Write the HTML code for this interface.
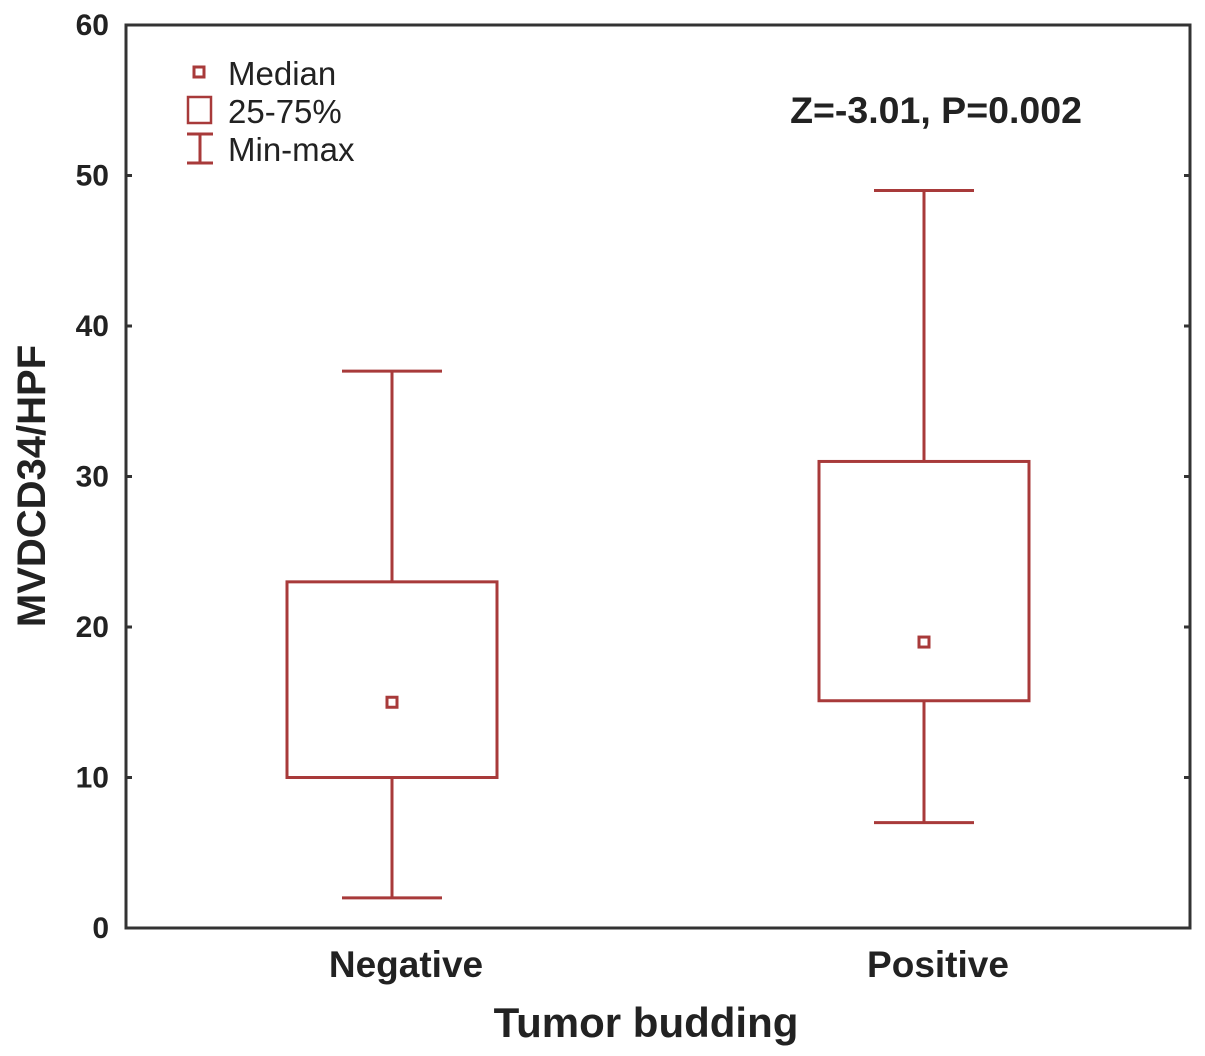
<!DOCTYPE html>
<html><head><meta charset="utf-8"><style>
html,body{margin:0;padding:0;background:#fff;}
svg{display:block;font-family:"Liberation Sans",Arial,sans-serif;}
</style></head><body>
<svg id="chart" width="1205" height="1056" viewBox="0 0 1205 1056" xmlns="http://www.w3.org/2000/svg"></svg>
<script>
const categories = ["Negative","Positive"];
const mins = [2, 7];
const q1s = [10, 15.1];
const medians = [15, 19];
const q3s = [23, 31];
const maxs = [37, 49];
const yTicks = [0,10,20,30,40,50,60];

const L=126, T=25, R=1190, B=928;
const yMin=0, yMax=60;
const centers=[392,924];
function y(v){return B-(v-yMin)/(yMax-yMin)*(B-T);}
function x(i){return centers[i];}
const NS="http://www.w3.org/2000/svg";
const svg=document.getElementById('chart');
const col="#a83a3a";
function mk(tag,attrs,parent){const e=document.createElementNS(NS,tag);for(const k in attrs)e.setAttribute(k,attrs[k]);(parent||svg).appendChild(e);return e;}

const frame=mk('rect',{x:L,y:T,width:R-L,height:B-T,fill:'none',stroke:'#333','stroke-width':3});



yTicks.forEach(v=>{
  const t1=mk('line',{x1:L,x2:L+6,y1:y(v),y2:y(v),stroke:'#333','stroke-width':3});
  
  
  const t2=mk('line',{x1:R-6,x2:R,y1:y(v),y2:y(v),stroke:'#333','stroke-width':3});
  
  
  const lb=mk('text',{x:L-17,y:y(v)+10,'text-anchor':'end','font-size':30,'font-weight':'bold',fill:'#222'});
  lb.textContent=v;
  
  
});

const halfBox=105, halfCap=50;
categories.forEach((c,i)=>{
  const cx=x(i);
  const g=mk('g',{});
  
  
  mk('line',{x1:cx,x2:cx,y1:y(maxs[i]),y2:y(q3s[i]),stroke:col,'stroke-width':3},g);
  mk('line',{x1:cx,x2:cx,y1:y(q1s[i]),y2:y(mins[i]),stroke:col,'stroke-width':3},g);
  mk('line',{x1:cx-halfCap,x2:cx+halfCap,y1:y(maxs[i]),y2:y(maxs[i]),stroke:col,'stroke-width':3},g);
  mk('line',{x1:cx-halfCap,x2:cx+halfCap,y1:y(mins[i]),y2:y(mins[i]),stroke:col,'stroke-width':3},g);
  mk('rect',{x:cx-halfBox,y:y(q3s[i]),width:2*halfBox,height:y(q1s[i])-y(q3s[i]),fill:'none',stroke:col,'stroke-width':3},g);
  mk('rect',{x:cx-5,y:y(medians[i])-5,width:10,height:10,fill:'#fff',stroke:col,'stroke-width':3},g);
  const lb=mk('text',{x:cx+14,y:977,'text-anchor':'middle','font-size':37,'font-weight':'bold',fill:'#222'});
  lb.textContent=c;
  
  
});
</script>
<svg style="position:absolute;left:0;top:0" width="1205" height="1056">
  <text x="646" y="1037" text-anchor="middle" font-size="42" font-weight="bold" fill="#222">Tumor budding</text>
  <text transform="translate(45,486) rotate(-90)" text-anchor="middle" font-size="40" font-weight="bold" fill="#222">MVDCD34/HPF</text>
  <text x="936" y="123" text-anchor="middle" font-size="37.5" font-weight="bold" fill="#222">Z=-3.01, P=0.002</text>
  <g>
    <rect x="194" y="67" width="10" height="10" fill="#fff" stroke="#a83a3a" stroke-width="3"/>
    <text x="228" y="85" font-size="33" fill="#222">Median</text>
    <rect x="188" y="97" width="23" height="26" fill="#fff" stroke="#a83a3a" stroke-width="2.5"/>
    <text x="228" y="123" font-size="33" fill="#222">25-75%</text>
    <line x1="187" x2="213" y1="134" y2="134" stroke="#a83a3a" stroke-width="3"/>
    <line x1="200" x2="200" y1="134" y2="163" stroke="#a83a3a" stroke-width="3"/>
    <line x1="187" x2="213" y1="163" y2="163" stroke="#a83a3a" stroke-width="3"/>
    <text x="228" y="161" font-size="33" fill="#222">Min-max</text>
  </g>
</svg>
</body></html>
